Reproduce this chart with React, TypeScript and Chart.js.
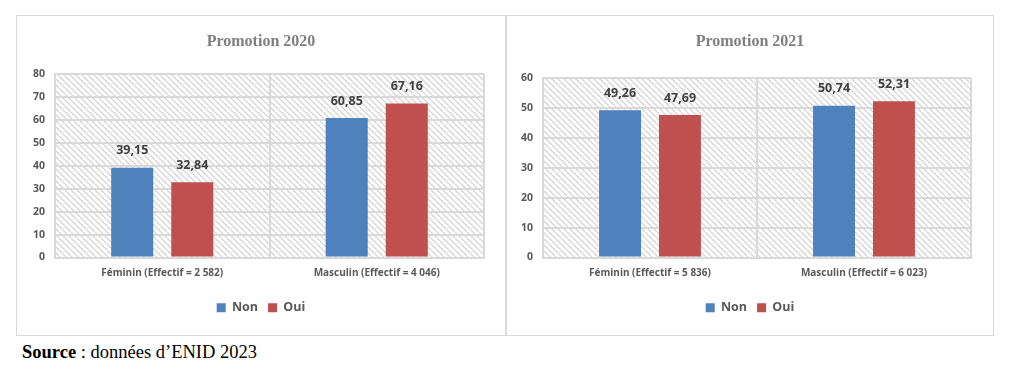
import React, { useEffect, useRef } from "react";
import { Chart, registerables } from "chart.js";

Chart.register(...registerables);

// ---- data ----
const seriesNames = ["Non", "Oui"];
const seriesColors = ["#4F81BD", "#C0504D"];

const categories2020 = ["Féminin (Effectif = 2 582)", "Masculin (Effectif = 4 046)"];
const non2020 = [39.15, 60.85];
const oui2020 = [32.84, 67.16];
const yMax2020 = 80;

const categories2021 = ["Féminin (Effectif = 5 836)", "Masculin (Effectif = 6 023)"];
const non2021 = [49.26, 50.74];
const oui2021 = [47.69, 52.31];
const yMax2021 = 60;

const yStep = 10;

const GRID = "#d9d9d9";
const TEXT = "#595959";
const FONT = "'Open Sans', Lato, sans-serif";

const hatchPlugin = {
  id: "hatch",
  beforeDraw(chart: any) {
    const { ctx, chartArea } = chart;
    if (!chartArea) return;
    const s = 6;
    const tile = document.createElement("canvas");
    tile.width = s;
    tile.height = s;
    const t = tile.getContext("2d")!;
    t.strokeStyle = "#d4d4d4";
    t.lineWidth = 1.3;
    t.beginPath();
    for (let k = -1; k <= 1; k++) {
      t.moveTo(k * s, 0);
      t.lineTo(k * s + s, s);
    }
    t.stroke();
    const pat = ctx.createPattern(tile, "repeat");
    ctx.save();
    ctx.fillStyle = pat;
    ctx.fillRect(chartArea.left, chartArea.top, chartArea.right - chartArea.left, chartArea.bottom - chartArea.top);
    ctx.restore();
  },
};

const labelPlugin = {
  id: "barLabels",
  afterDatasetsDraw(chart: any) {
    const { ctx } = chart;
    ctx.save();
    ctx.font = `bold 12.5px ${FONT}`;
    ctx.fillStyle = "#404040";
    ctx.textAlign = "center";
    ctx.textBaseline = "middle";
    chart.data.datasets.forEach((ds: any, di: number) => {
      const meta = chart.getDatasetMeta(di);
      meta.data.forEach((bar: any, i: number) => {
        const v = ds.data[i] as number;
        ctx.fillText(v.toFixed(2).replace(".", ","), bar.x, bar.y - 17);
      });
    });
    ctx.restore();
  },
};

type PanelProps = {
  title: string;
  categories: string[];
  non: number[];
  oui: number[];
  yMax: number;
  width: number;
  height: number;
  yWidth: number;
  rightWidth: number;
  titleGap: number;
};

function Panel(p: PanelProps) {
  const ref = useRef<HTMLCanvasElement>(null);
  useEffect(() => {
    const chart = new Chart(ref.current!, {
      type: "bar",
      data: {
        labels: p.categories,
        datasets: [
          { label: seriesNames[0], data: p.non, backgroundColor: seriesColors[0], borderWidth: 0, yAxisID: "y" },
          { label: seriesNames[1], data: p.oui, backgroundColor: seriesColors[1], borderWidth: 0, yAxisID: "y" },
        ],
      },
      options: {
        animation: false,
        responsive: false,
        maintainAspectRatio: false,
        datasets: { bar: { barPercentage: 0.7, categoryPercentage: 0.56 } },
        layout: { padding: { top: 0, right: 0, bottom: 11, left: 0 } },
        plugins: {
          title: {
            display: true,
            text: p.title,
            color: "#7f7f7f",
            font: { family: "'Liberation Serif', serif", size: 16, weight: "bold", lineHeight: 1.2 },
            padding: { top: 16, bottom: p.titleGap },
          },
          legend: {
            position: "bottom",
            labels: {
              boxWidth: 9,
              boxHeight: 9,
              padding: 10,
              color: TEXT,
              font: { family: FONT, size: 12.5, weight: "bold" },
            },
          },
          tooltip: { enabled: false },
        },
        scales: {
          x: {
            grid: { color: GRID, lineWidth: 2, drawTicks: false, offset: true },
            border: { display: true, color: GRID, width: 2 },
            ticks: { color: TEXT, padding: 10, font: { family: FONT, size: 10, weight: "bold" } },
            afterFit: (s: any) => {
              s.height = 34;
            },
          },
          y: {
            position: "left",
            min: 0,
            max: p.yMax,
            grid: { color: GRID, lineWidth: 2, drawTicks: false },
            border: { display: true, color: GRID, width: 2 },
            ticks: { stepSize: yStep, color: TEXT, padding: 10, font: { family: FONT, size: 10.5, weight: "bold" } },
            afterFit: (s: any) => {
              s.width = p.yWidth;
            },
          },
          yRight: {
            position: "right",
            display: true,
            min: 0,
            max: 1,
            grid: { display: false, drawOnChartArea: false, drawTicks: false },
            border: { display: false },
            ticks: { display: false },
            afterFit: (s: any) => {
              s.width = p.rightWidth;
            },
          },
        },
      },
      plugins: [hatchPlugin, labelPlugin],
    } as any);
    return () => chart.destroy();
  }, []);
  return <canvas ref={ref} width={p.width} height={p.height} style={{ display: "block" }} />;
}

export default function App() {
  return (
    <div style={{ position: "relative", width: 1008, height: 355 }}>
      <div
        style={{
          position: "absolute",
          left: 8,
          top: 7,
          width: 490,
          height: 321,
          border: `1px solid ${GRID}`,
          boxSizing: "border-box",
        }}
      >
        <Panel
          title="Promotion 2020"
          categories={categories2020}
          non={non2020}
          oui={oui2020}
          yMax={yMax2020}
          width={488}
          height={319}
          yWidth={38}
          rightWidth={21}
          titleGap={23}
        />
      </div>
      <div
        style={{
          position: "absolute",
          left: 498,
          top: 7,
          width: 488,
          height: 321,
          border: `1px solid ${GRID}`,
          boxSizing: "border-box",
        }}
      >
        <Panel
          title="Promotion 2021"
          categories={categories2021}
          non={non2021}
          oui={oui2021}
          yMax={yMax2021}
          width={486}
          height={319}
          yWidth={36}
          rightWidth={22}
          titleGap={27}
        />
      </div>
      <div
        style={{
          position: "absolute",
          left: 14,
          top: 334,
          fontFamily: "'Liberation Serif', 'Times New Roman', serif",
          fontSize: 18.5,
          lineHeight: "20px",
          color: "#000",
          whiteSpace: "nowrap",
        }}
      >
        <b>Source</b> : données d’ENID 2023
      </div>
    </div>
  );
}
